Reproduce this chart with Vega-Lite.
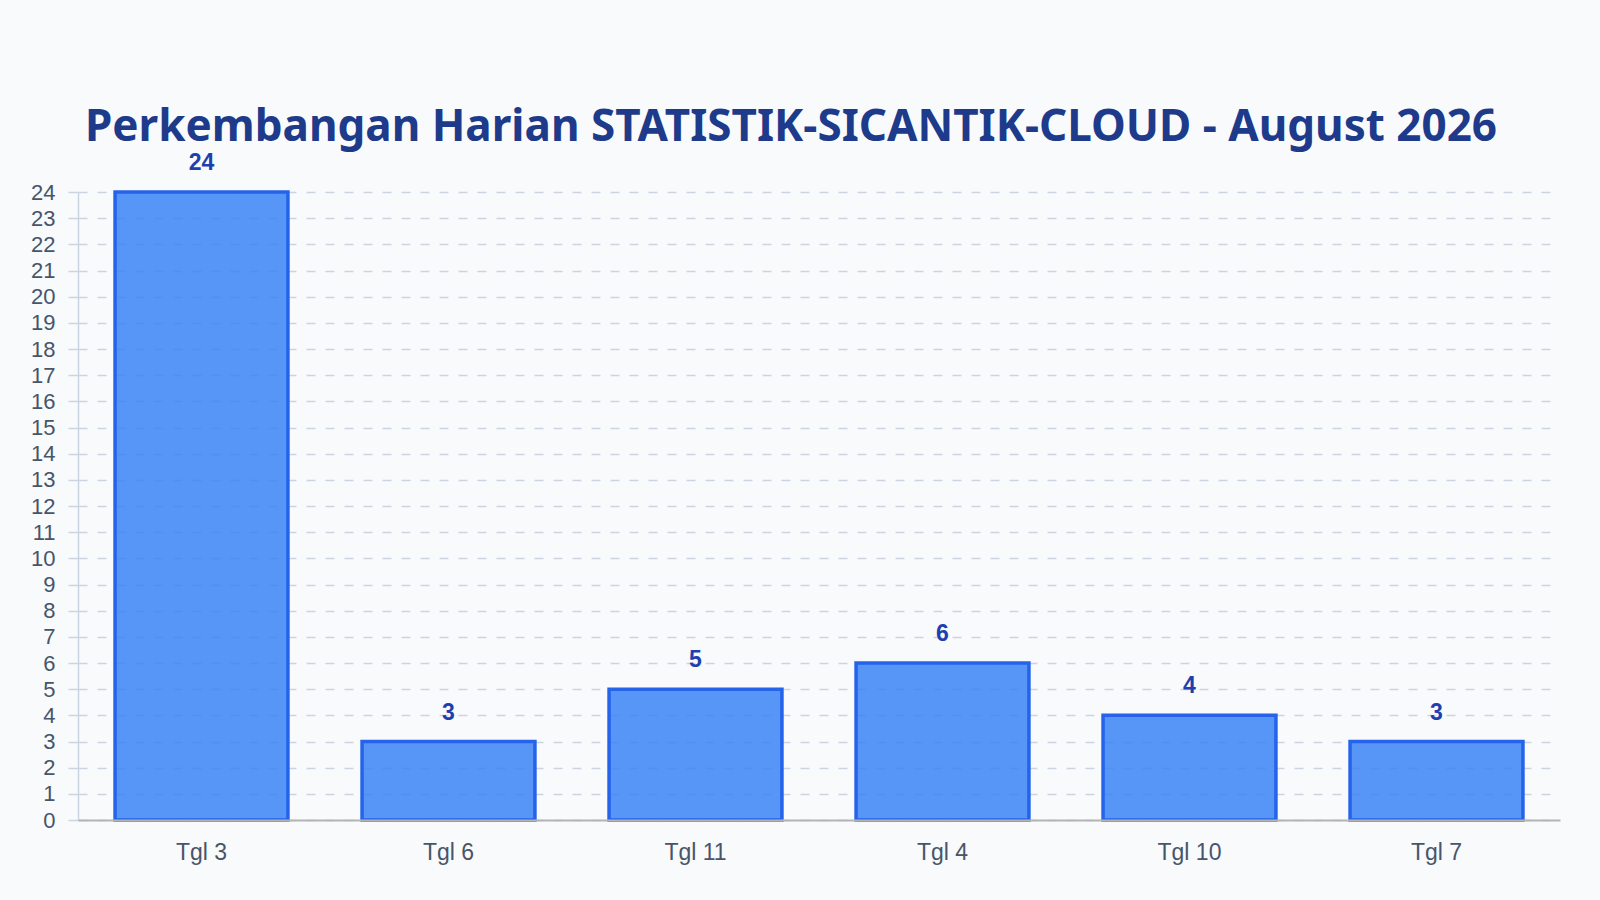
{
  "$schema": "https://vega.github.io/schema/vega-lite/v6.json",
  "width": 1482,
  "height": 628,
  "autosize": {"type": "none"},
  "padding": {"left": 78, "top": 192, "right": 40, "bottom": 80},
  "background": "#F8FAFC",
  "title": {
    "text": "Perkembangan Harian STATISTIK-SICANTIK-CLOUD - August 2026",
    "font": "Noto Sans",
    "fontSize": 44,
    "fontWeight": "bold",
    "color": "#1E3A8A",
    "anchor": "middle",
    "dx": -28,
    "offset": 2
  },
  "data": {
    "values": [
      {"tanggal": "Tgl 3", "jumlah": 24},
      {"tanggal": "Tgl 6", "jumlah": 3},
      {"tanggal": "Tgl 11", "jumlah": 5},
      {"tanggal": "Tgl 4", "jumlah": 6},
      {"tanggal": "Tgl 10", "jumlah": 4},
      {"tanggal": "Tgl 7", "jumlah": 3}
    ]
  },
  "encoding": {
    "x": {
      "field": "tanggal",
      "type": "nominal",
      "sort": null,
      "title": null,
      "scale": {"paddingInner": 0.3, "paddingOuter": 0.15},
      "axis": {
        "labelAngle": 0,
        "labelFont": "Liberation Sans",
        "labelFontSize": 23,
        "labelColor": "#475569",
        "labelPadding": 21,
        "ticks": false,
        "domainColor": "#B4B4B4",
        "domainWidth": 2,
        "grid": false,
        "zindex": 1
      }
    },
    "y": {
      "field": "jumlah",
      "type": "quantitative",
      "title": null,
      "scale": {"domain": [0, 24], "nice": false},
      "axis": {
        "values": [0, 1, 2, 3, 4, 5, 6, 7, 8, 9, 10, 11, 12, 13, 14, 15, 16, 17, 18, 19, 20, 21, 22, 23, 24],
        "labelFont": "Liberation Sans",
        "labelFontSize": 22,
        "labelColor": "#475569",
        "labelPadding": 3,
        "tickSize": 20,
        "tickColor": "#CBD5E1",
        "tickDash": [10, 10],
        "tickWidth": 1.5,
        "domainColor": "#CBD5E1",
        "domainWidth": 1.5,
        "grid": true,
        "gridColor": "#CBD5E1",
        "gridDash": [9, 10],
        "gridWidth": 1.5,
        "zindex": 0
      }
    }
  },
  "layer": [
    {
      "mark": {
        "type": "bar",
        "fill": "#3B82F6",
        "fillOpacity": 0.85,
        "stroke": "#2563EB",
        "strokeWidth": 3.5
      }
    },
    {
      "mark": {
        "type": "text",
        "baseline": "alphabetic",
        "dy": -22,
        "font": "Liberation Sans",
        "fontSize": 23,
        "fontWeight": "bold",
        "color": "#1E40AF"
      },
      "encoding": {"text": {"field": "jumlah", "type": "quantitative"}}
    }
  ],
  "config": {"view": {"stroke": null}}
}
